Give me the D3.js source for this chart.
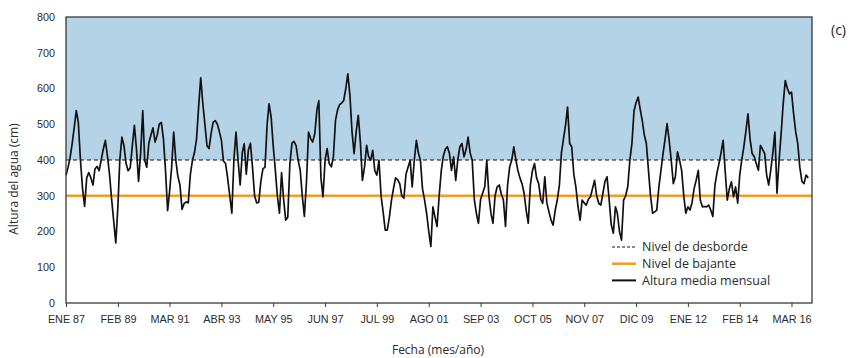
<!DOCTYPE html>
<html>
<head>
<meta charset="utf-8">
<script src="https://cdn.jsdelivr.net/npm/d3@7"></script>
<style>
  body { margin: 0; background: #fff; }
  svg { font-family: "Open Sans", sans-serif; }
  .axis path, .axis line { stroke: #3a3a3a; }
  .axis text { fill: #2b2b2b; font-size: 10.8px; }
</style>
</head>
<body>
<div id="chart"></div>
<script>
// monthly mean water height (cm), from Jan 1987
const startYear = 1987;
const heights = [
  357, 380, 405, 445, 490, 538, 505, 400, 320, 270, 350, 365,   // 1987
  350, 330, 375, 382, 370, 400, 430, 455, 410, 360, 290, 230,   // 1988
  168, 270, 400, 464, 440, 390, 370, 378, 440, 497, 430, 340,   // 1989
  420, 538, 400, 380, 447, 470, 490, 450, 470, 500, 505, 460,   // 1990
  371, 258, 310, 380, 478, 400, 355, 330, 262, 278, 283, 280,   // 1991
  360, 400, 420, 460, 548, 630, 560, 500, 440, 432, 475, 506,   // 1992
  510, 500, 480, 455, 397, 390, 350, 300, 251, 400, 478, 400,   // 1993
  330, 420, 446, 360, 427, 447, 380, 300, 280, 282, 340, 375,   // 1994
  380, 500, 557, 520, 440, 373, 300, 251, 365, 290, 232, 240,   // 1995
  390, 447, 452, 440, 400, 371, 300, 242, 340, 478, 460, 450,   // 1996
  474, 540, 566, 350, 297, 400, 432, 390, 381, 409, 511, 540,   // 1997
  555, 560, 566, 600, 641, 580, 480, 418, 480, 525, 450, 343,   // 1998
  380, 441, 410, 399, 427, 370, 358, 399, 300, 255, 204, 204,   // 1999
  240, 288, 320, 350, 345, 334, 300, 293, 360, 380, 399, 325,   // 2000
  400, 455, 420, 399, 320, 288, 251, 200, 158, 269, 240, 214,   // 2001
  300, 370, 409, 430, 437, 418, 371, 409, 343, 400, 437, 446,   // 2002
  409, 430, 464, 420, 399, 290, 251, 223, 290, 307, 325, 399,   // 2003
  300, 250, 223, 300, 325, 330, 305, 288, 214, 330, 381, 399,   // 2004
  437, 400, 371, 350, 334, 307, 260, 223, 330, 370, 390, 350,   // 2005
  334, 290, 279, 353, 280, 255, 232, 218, 260, 288, 330, 420,   // 2006
  460, 500, 548, 446, 437, 360, 325, 270, 232, 288, 280, 274,   // 2007
  290, 297, 320, 343, 300, 279, 274, 307, 340, 353, 288, 220,   // 2008
  195, 269, 251, 200, 176, 288, 300, 325, 400, 446, 538, 560,   // 2009
  576, 540, 511, 470, 446, 371, 300, 251, 255, 260, 325, 370,   // 2010
  418, 460, 502, 455, 400, 334, 353, 423, 399, 371, 300, 251,   // 2011
  269, 260, 280, 320, 343, 371, 288, 269, 270, 269, 274, 260,   // 2012
  242, 330, 362, 390, 420, 455, 370, 288, 320, 339, 297, 325,   // 2013
  279, 360, 399, 437, 480, 529, 460, 418, 409, 390, 371, 441,   // 2014
  430, 418, 360, 330, 371, 420, 478, 307, 400, 474, 560, 622,   // 2015
  600, 585, 590, 529, 480, 446, 380, 340, 334, 358, 350         // 2016
];
const tickLabels = ["ENE 87", "FEB 89", "MAR 91", "ABR 93", "MAY 95", "JUN 97", "JUL 99",
  "AGO 01", "SEP 03", "OCT 05", "NOV 07", "DIC 09", "ENE 12", "FEB 14", "MAR 16"];
const tickStepMonths = 25;
const yTicks = [0, 100, 200, 300, 400, 500, 600, 700, 800];
const floodLevel = 400;   // nivel de desborde
const lowLevel = 300;     // nivel de bajante
const legendItems = ["Nivel de desborde", "Nivel de bajante", "Altura media mensual"];

const width = 853, height = 358;
const margin = {top: 17, right: 41, bottom: 55, left: 66};

const svg = d3.select('#chart').append('svg')
  .attr('width', width).attr('height', height);

const data = heights.map((v, i) => ({date: new Date(startYear, i, 15), value: v}));

const x = d3.scaleTime()
  .domain([new Date(startYear, 0, 15), new Date(startYear, 360, 10)])
  .range([margin.left, width - margin.right]);
const y = d3.scaleLinear()
  .domain([0, 800])
  .range([height - margin.bottom, margin.top]);

// blue band above the flood level
svg.append('rect')
  .attr('x', x.range()[0]).attr('y', y(800))
  .attr('width', x.range()[1] - x.range()[0])
  .attr('height', y(floodLevel) - y(800))
  .attr('fill', '#b4d3e6');

// reference levels
svg.append('line')
  .attr('x1', x.range()[0]).attr('x2', x.range()[1])
  .attr('y1', y(lowLevel)).attr('y2', y(lowLevel))
  .attr('stroke', '#f29b26').attr('stroke-width', 2.5);
svg.append('line')
  .attr('x1', x.range()[0]).attr('x2', x.range()[1])
  .attr('y1', y(floodLevel)).attr('y2', y(floodLevel))
  .attr('stroke', '#111').attr('stroke-width', 1.2)
  .attr('stroke-dasharray', '4,3');

// series
const line = d3.line()
  .x((d) => x(d.date))
  .y((d) => y(d.value));
svg.append('path')
  .datum(data)
  .attr('fill', 'none')
  .attr('stroke', '#111')
  .attr('stroke-width', 1.7)
  .attr('stroke-linejoin', 'round')
  .attr('d', line);

// frame
svg.append('rect')
  .attr('x', x.range()[0]).attr('y', y(800))
  .attr('width', x.range()[1] - x.range()[0])
  .attr('height', y(0) - y(800))
  .attr('fill', 'none').attr('stroke', '#3a3a3a').attr('stroke-width', 1.3);

// axes
const tickDates = tickLabels.map((l, i) => new Date(startYear, i * tickStepMonths, 15));
svg.append('g').attr('class', 'axis')
  .attr('transform', 'translate(0,' + y(0) + ')')
  .call(d3.axisBottom(x).tickValues(tickDates).tickSize(4).tickPadding(8)
    .tickFormat((d, i) => tickLabels[i]))
  .call((g) => g.select('.domain').remove());

svg.append('g').attr('class', 'axis')
  .attr('transform', 'translate(' + x.range()[0] + ',0)')
  .call(d3.axisLeft(y).tickValues(yTicks).tickSize(0).tickPadding(11))
  .call((g) => g.select('.domain').remove());

// titles
svg.append('text')
  .attr('transform', 'translate(18,' + 179 + ') rotate(-90)')
  .attr('text-anchor', 'middle')
  .style('font-size', '12px').style('fill', '#2b2b2b')
  .text('Altura del agua (cm)');
svg.append('text')
  .attr('x', 438).attr('y', 354)
  .attr('text-anchor', 'middle')
  .style('font-size', '12px').style('fill', '#2b2b2b')
  .text('Fecha (mes/año)');
svg.append('text')
  .attr('x', 831).attr('y', 35)
  .style('font-size', '14px').style('fill', '#222')
  .text('(c)');

// legend
const legend = svg.append('g').attr('transform', 'translate(612,247)');
const legendStyles = [
  {stroke: '#111', width: 1.2, dash: '3,2'},
  {stroke: '#f29b26', width: 2.5, dash: null},
  {stroke: '#111', width: 2, dash: null}
];
legendItems.forEach((label, i) => {
  const row = legend.append('g').attr('transform', 'translate(0,' + (i * 16.7) + ')');
  row.append('line')
    .attr('x1', 0).attr('x2', 24)
    .attr('stroke', legendStyles[i].stroke)
    .attr('stroke-width', legendStyles[i].width)
    .attr('stroke-dasharray', legendStyles[i].dash);
  row.append('text')
    .attr('x', 30).attr('dy', '0.35em')
    .style('font-size', '12.5px').style('fill', '#2b2b2b')
    .text(label);
});
</script>
</body>
</html>
